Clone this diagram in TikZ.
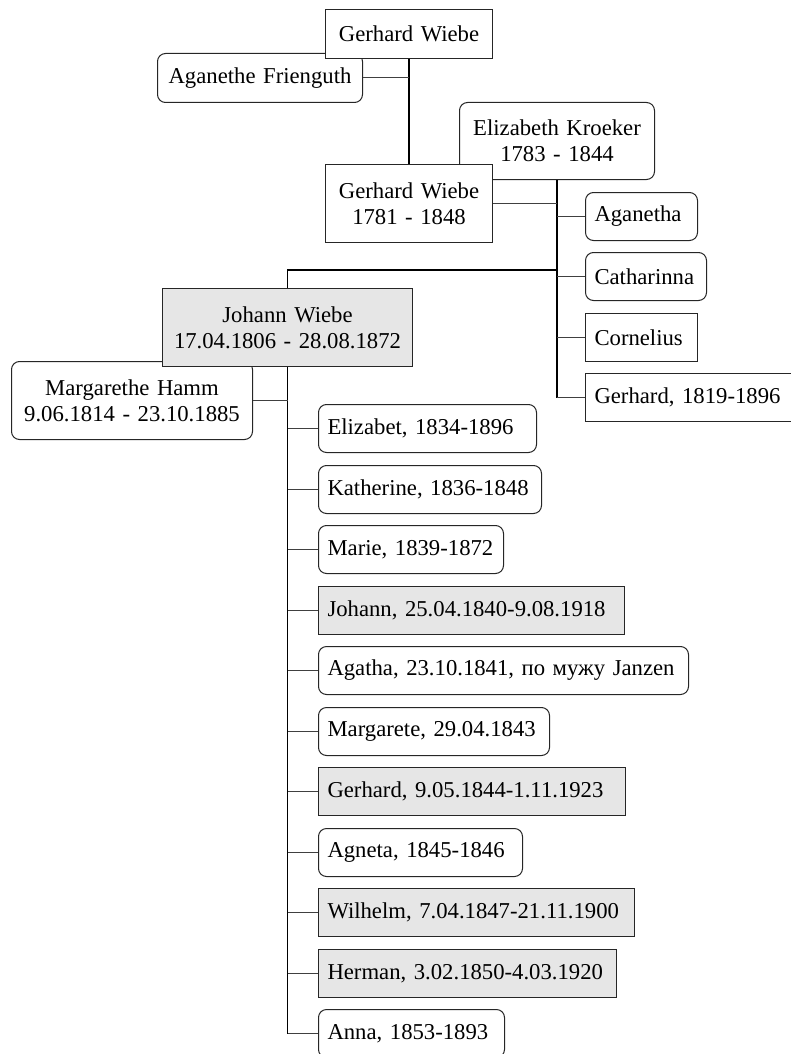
\documentclass[tikz,border=0pt]{standalone}
\usepackage{fontspec}
\setmainfont{Liberation Serif}

\definecolor{g}{rgb}{0.902,0.902,0.902}
\tikzset{
	man/.style={draw=black!85, fill=white, line width=1pt, inner xsep=9pt, inner ysep=0pt,
		minimum height=48pt, anchor=north west, align=left,
		font=\fontsize{22.7}{26}\selectfont},
	woman/.style={man, rounded corners=8pt},
	heir/.style={man, fill=g},
	branch/.style={black!75, line width=1pt},
	trunk/.style={black, line width=1.5pt},
}

\begin{document}
\begin{tikzpicture}[x=1pt, y=-1pt]
	\useasboundingbox (0,0) rectangle (791,1054);

	% grandparents
	\node[woman, text width=187pt, minimum height=49pt, align=center] (af) at (157,53) {Aganethe Frienguth};
	\node[man, text width=149pt, minimum height=49pt, align=center] (gw) at (325,9) {Gerhard Wiebe};

	% parents
	\node[woman, text width=177pt, minimum height=77pt, align=center] (ek) at (459,102) {Elizabeth Kroeker\\1783 - 1844};
	\node[man, text width=149pt, minimum height=78pt, align=center] (gw2) at (325,164) {Gerhard Wiebe\\1781 - 1848};

	% brothers and sisters
	\node[woman, text width=94pt] (aganetha) at (585,192) {Aganetha};
	\node[woman, text width=103pt] (catharinna) at (585,252) {Catharinna};
	\node[man, text width=94pt] (cornelius) at (585,313) {Cornelius};
	\node[man, text width=188pt] (gerhardb) at (585,373) {Gerhard, 1819-1896};

	% Johann and his wife
	\node[woman, text width=223pt, minimum height=78pt, align=center] (mh) at (11,361) {Margarethe Hamm\\9.06.1814 - 23.10.1885};
	\node[heir, text width=232pt, minimum height=78pt, align=center] (johann) at (162,288) {Johann Wiebe\\17.04.1806 - 28.08.1872};

	% the children
	\node[woman, text width=200pt] (elizabet) at (318,404) {Elizabet, 1834-1896};
	\node[woman, text width=205pt] (katherine) at (318,465) {Katherine, 1836-1848};
	\node[woman, text width=167pt] (marie) at (318,525) {Marie, 1839-1872};
	\node[heir, text width=288pt] (johannb) at (318,586) {Johann, 25.04.1840-9.08.1918};
	\node[woman, text width=352pt] (agatha) at (318,646) {Agatha, 23.10.1841, по мужу Janzen};
	\node[woman, text width=213pt] (margarete) at (318,707) {Margarete, 29.04.1843};
	\node[heir, text width=289pt] (gerhardc) at (318,767) {Gerhard, 9.05.1844-1.11.1923};
	\node[woman, text width=186pt] (agneta) at (318,828) {Agneta, 1845-1846};
	\node[heir, text width=298pt] (wilhelm) at (318,888) {Wilhelm, 7.04.1847-21.11.1900};
	\node[heir, text width=280pt] (herman) at (318,949) {Herman, 3.02.1850-4.03.1920};
	\node[woman, text width=168pt] (anna) at (318,1009) {Anna, 1853-1893};

	% lines of the first family
	\draw[black, line width=1.1pt] (gw.south) -- (gw2.north);
	\draw[branch] (af.east) -- (af.east -| gw.south);

	% lines of the second family
	\coordinate (wed) at (ek.south |- 0,270);
	\draw[trunk] (ek.south) -- (ek.south |- gerhardb.west);
	\draw[branch] (gw2.east) -- (gw2.east -| ek.south);
	\foreach \k in {aganetha, catharinna, cornelius, gerhardb}
		\draw[branch] (ek.south |- \k.west) -- (\k.west);
	\draw[trunk] (johann.north) |- (wed);

	% lines of the third family
	\draw[trunk] (johann.south) -- (johann.south |- anna.west);
	\draw[branch] (mh.east) -- (mh.east -| johann.south);
	\foreach \k in {elizabet, katherine, marie, johannb, agatha, margarete, gerhardc, agneta, wilhelm, herman, anna}
		\draw[branch] (johann.south |- \k.west) -- (\k.west);
\end{tikzpicture}
\end{document}
